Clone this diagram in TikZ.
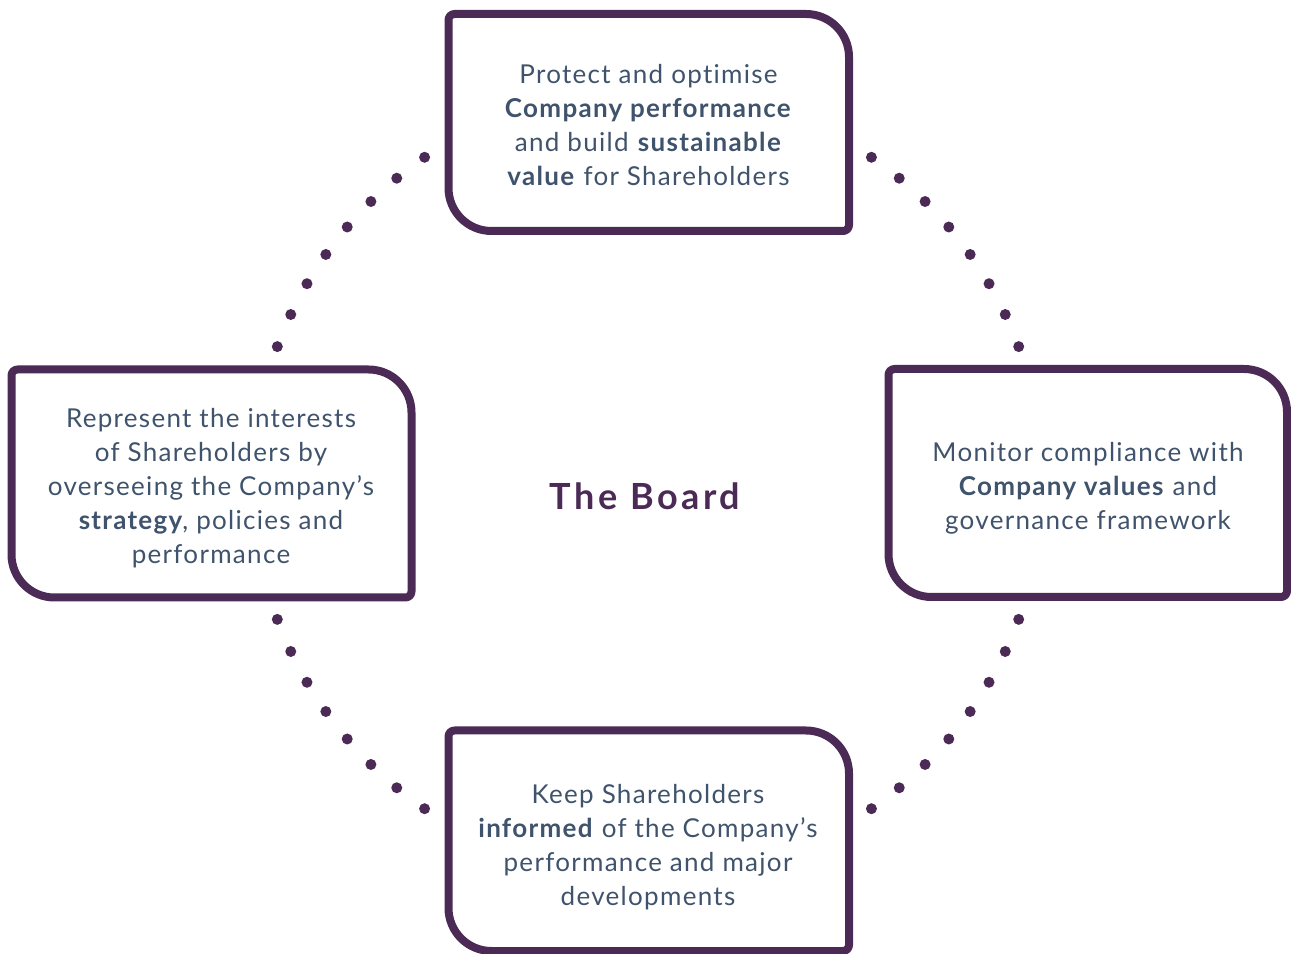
\documentclass[tikz,border=0pt]{standalone}
\usepackage{fontspec}
\setmainfont{Lato}[LetterSpace=5,Ligatures=NoCommon]
\newfontfamily\titlefont{Lato}[LetterSpace=10]
\usetikzlibrary{calc}
\definecolor{boardpurple}{RGB}{75,42,86}
\definecolor{boardtext}{RGB}{63,83,108}
\tikzset{>=stealth,
  leaf/.style={draw=boardpurple,line width=6pt,line join=round},
  leaftext/.style={text=boardtext,align=center,font=\fontsize{19.5}{25.5}\selectfont},
  dot/.style={fill=boardpurple}}
% box with two small and two large corners: x1,y1 (lower left), x2,y2 (upper right)
\newcommand{\leaf}[4]{%
  \draw[leaf] (#1,#4-6) arc(180:90:6) -- (#3-43,#4) arc(90:0:43)
    -- (#3,#2+6) arc(0:-90:6) -- (#1+43,#2) arc(270:180:43) -- cycle;}

\begin{document}
\begin{tikzpicture}[x=0.75pt,y=0.75pt]
\useasboundingbox (0,0) rectangle (1291,953);
\leaf{448.5}{722}{849}{939}
\leaf{11.5}{355.5}{411.5}{583.5}
\leaf{888.5}{356}{1287}{584}
\leaf{448.5}{2}{849}{222.5}
\node[leaftext] (protect) at (648.5,828) {Protect and optimise\\
  \textbf{Company performance}\\and build \textbf{sustainable}\\
  \textbf{value} for Shareholders};
\node[leaftext] (represent) at (211,465) {Represent the interests\\
  of Shareholders by\\overseeing the Company’s\\
  \textbf{strategy}, policies and\\performance};
\node[leaftext] (monitor) at (1088,465) {Monitor compliance with\\
  \textbf{Company values} and\\governance framework};
\node[leaftext] (inform) at (648,106) {Keep Shareholders\\
  \textbf{informed} of the Company’s\\performance and major\\developments};
\node[text=boardpurple,font=\titlefont\fontsize{27}{32}\selectfont\bfseries] (board) at (645,457) {The Board};
% dotted ring round the board
\coordinate (hub) at (648,470);
\foreach \k [evaluate=\k as \a using 20.2+5.05*\k] in {0,...,7} {
  \fill[dot] (hub) ++(\a:395) circle (5.5);
  \fill[dot] (hub) ++(180-\a:395) circle (5.5);
  \fill[dot] (hub) ++(-\a:395) circle (5.5);
  \fill[dot] (hub) ++(180+\a:395) circle (5.5);
}
\end{tikzpicture}
\end{document}
